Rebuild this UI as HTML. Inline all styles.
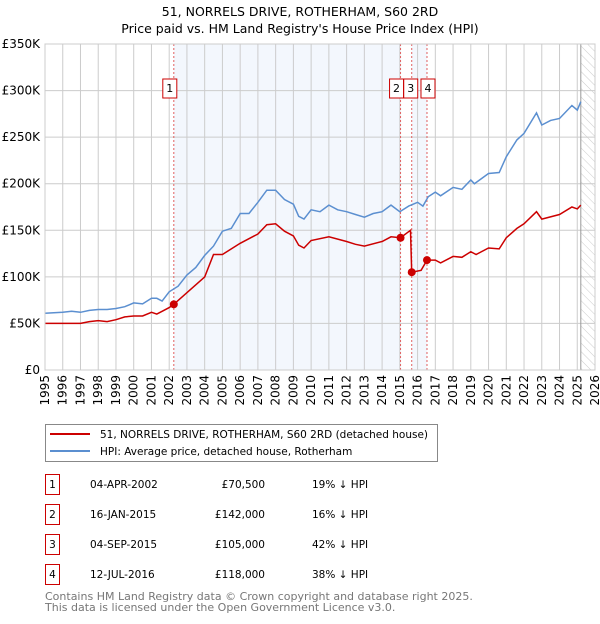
<!DOCTYPE html>
<html><head><meta charset="utf-8"><style>
body{margin:0;background:#fff;font-family:"DejaVu Sans","Liberation Sans",sans-serif;}
svg text{font-family:"DejaVu Sans","Liberation Sans",sans-serif;}
</style></head><body>
<svg id="c" width="600" height="620" xmlns="http://www.w3.org/2000/svg">
<defs><pattern id="hatch" width="6" height="6" patternUnits="userSpaceOnUse" patternTransform="rotate(-45)"><line x1="0" y1="0" x2="0" y2="6" stroke="#ccc" stroke-width="1"/></pattern></defs>
<text x="300" y="16" text-anchor="middle" font-size="12.5">51, NORRELS DRIVE, ROTHERHAM, S60 2RD</text>
<text x="300" y="33" text-anchor="middle" font-size="12.5">Price paid vs. HM Land Registry's House Price Index (HPI)</text>
<g id="plot"></g>
<g>
<rect x="45.5" y="424.5" width="392" height="37" fill="#fff" stroke="#888"/>
<line x1="50" y1="434" x2="90" y2="434" stroke="#cc0000" stroke-width="2"/>
<text x="100" y="438" font-size="10.5">51, NORRELS DRIVE, ROTHERHAM, S60 2RD (detached house)</text>
<line x1="50" y1="451" x2="90" y2="451" stroke="#5b8fd0" stroke-width="2"/>
<text x="100" y="455" font-size="10.5">HPI: Average price, detached house, Rotherham</text>
</g>
<g id="table" font-size="10.5"></g>
<text x="45" y="600" font-size="11" fill="#777">Contains HM Land Registry data © Crown copyright and database right 2025.</text>
<text x="45" y="611" font-size="11" fill="#777">This data is licensed under the Open Government Licence v3.0.</text>
</svg>
<script>
const hpiDates=[1995,1996,1996.5,1997,1997.5,1998,1998.5,1999,1999.5,2000,2000.5,2001,2001.3,2001.6,2002,2002.5,2003,2003.5,2004,2004.5,2005,2005.5,2006,2006.5,2007,2007.5,2008,2008.5,2009,2009.3,2009.6,2010,2010.5,2011,2011.5,2012,2012.5,2013,2013.5,2014,2014.5,2015,2015.5,2016,2016.3,2016.6,2017,2017.3,2018,2018.5,2019,2019.2,2020,2020.6,2021,2021.6,2022,2022.7,2023,2023.5,2024,2024.7,2025,2025.2];
const hpiValues=[61,62,63,62,64,65,65,66,68,72,71,77,77,74,84,90,102,110,123,133,149,152,168,168,180,193,193,183,178,165,162,172,170,177,172,170,167,164,168,170,177,170,176,180,176,186,191,187,196,194,204,200,211,212,229,247,254,276,263,268,270,284,279,288];
const paidDates=[1995,1996,1997,1997.5,1998,1998.5,1999,1999.5,2000,2000.5,2001,2001.3,2001.6,2002,2002.26,2003,2004,2004.5,2005,2006,2007,2007.5,2008,2008.5,2009,2009.3,2009.6,2010,2011,2012,2012.5,2013,2014,2014.5,2015.04,2015.6,2015.67,2016.2,2016.53,2017,2017.3,2018,2018.5,2019,2019.3,2020,2020.6,2021,2021.6,2022,2022.7,2023,2024,2024.7,2025,2025.2];
const paidValues=[50,50,50,52,53,52,54,57,58,58,62,60,63,67,70.5,83,100,124,124,136,146,156,157,149,144,134,131,139,143,138,135,133,138,143,142,150,105,107,118,118,115,122,121,127,124,131,130,142,152,157,170,162,167,175,173,177];
const saleLabels=["1","2","3","4"];
const saleDates=[2002.26,2015.04,2015.67,2016.53];
const saleValues=[70.5,142,105,118];
const saleDateText=["04-APR-2002","16-JAN-2015","04-SEP-2015","12-JUL-2016"];
const salePriceText=["£70,500","£142,000","£105,000","£118,000"];
const saleHpiText=["19% ↓ HPI","16% ↓ HPI","42% ↓ HPI","38% ↓ HPI"];
const yTicks=[0,50,100,150,200,250,300,350];
const yTickLabels=["£0","£50K","£100K","£150K","£200K","£250K","£300K","£350K"];
const xTicks=[1995,1996,1997,1998,1999,2000,2001,2002,2003,2004,2005,2006,2007,2008,2009,2010,2011,2012,2013,2014,2015,2016,2017,2018,2019,2020,2021,2022,2023,2024,2025,2026];

const NS="http://www.w3.org/2000/svg";
const X0=45,X1=595,Y0=370,Y1=44;
const x=t=>X0+(t-1995)*(X1-X0)/31;
const y=v=>Y0-v*(Y0-Y1)/350;
const plot=document.getElementById('plot');
function mk(tag,attrs,parent){const e=document.createElementNS(NS,tag);for(const k in attrs)e.setAttribute(k,attrs[k]);(parent||plot).appendChild(e);return e;}

let e;
e=mk('rect',{x:x(saleDates[0]),y:Y1,width:x(saleDates[1])-x(saleDates[0]),height:Y0-Y1,fill:'#eef3fc',opacity:0.7});


e=mk('rect',{x:x(saleDates[2]),y:Y1,width:x(saleDates[3])-x(saleDates[2]),height:Y0-Y1,fill:'#eef3fc',opacity:0.7});


e=mk('rect',{x:x(2025.2),y:Y1,width:X1-x(2025.2),height:Y0-Y1,fill:'url(#hatch)'});



yTicks.forEach((v,i)=>{
  e=mk('line',{x1:X0,x2:X1,y1:y(v),y2:y(v),stroke:'#ccc','stroke-width':1});
  
  
  e=mk('text',{x:X0-5,y:y(v)+4,'text-anchor':'end','font-size':12});
  e.textContent=yTickLabels[i];
  
  
});
xTicks.forEach(t=>{
  e=mk('line',{x1:x(t),x2:x(t),y1:Y1,y2:Y0,stroke:'#ccc','stroke-width':1});
  
  
  e=mk('text',{transform:`translate(${x(t)+4},${Y0+5}) rotate(-90)`,'text-anchor':'end','font-size':12});
  e.textContent=t;
  
  
});
e=mk('line',{x1:x(2025.2),x2:x(2025.2),y1:Y1,y2:Y0,stroke:'#999','stroke-width':1});


saleDates.forEach(d=>{
  e=mk('line',{x1:x(d),x2:x(d),y1:Y1,y2:Y0,stroke:'#e06060','stroke-width':1,'stroke-dasharray':'2,2'});
  
  
});

e=mk('path',{d:hpiDates.map((t,i)=>(i?'L':'M')+x(t).toFixed(1)+','+y(hpiValues[i]).toFixed(1)).join(''),fill:'none',stroke:'#5b8fd0','stroke-width':1.5});


e=mk('path',{d:paidDates.map((t,i)=>(i?'L':'M')+x(t).toFixed(1)+','+y(paidValues[i]).toFixed(1)).join(''),fill:'none',stroke:'#cc0000','stroke-width':1.5});


saleDates.forEach((d,i)=>{
  e=mk('circle',{cx:x(d),cy:y(saleValues[i]),r:4,fill:'#cc0000'});
  
  
});
const boxX=[x(saleDates[0])-11,x(saleDates[1])-11,x(saleDates[2])-8,x(saleDates[3])-6];
saleLabels.forEach((l,i)=>{
  const g=mk('g',{});
  
  
  mk('rect',{x:boxX[i],y:79,width:14,height:19,fill:'#fff',stroke:'#cc0000'},g);
  const t=mk('text',{x:boxX[i]+7,y:92,'text-anchor':'middle','font-size':11},g);
  t.textContent=l;
});
e=mk('rect',{x:X0,y:Y1,width:X1-X0,height:Y0-Y1,fill:'none',stroke:'#ccc'});



const tbl=document.getElementById('table');
const rowY=[484,514,544,574];
saleLabels.forEach((l,i)=>{
  const g=mk('g',{},tbl);
  
  
  mk('rect',{x:45.5,y:rowY[i]-9.5,width:14,height:20,fill:'#fff',stroke:'#cc0000'},g);
  let t=mk('text',{x:52.5,y:rowY[i]+4,'text-anchor':'middle'},g);t.textContent=l;
  t=mk('text',{x:90,y:rowY[i]+4},g);t.textContent=saleDateText[i];
  t=mk('text',{x:265,y:rowY[i]+4,'text-anchor':'end'},g);t.textContent=salePriceText[i];
  t=mk('text',{x:312,y:rowY[i]+4},g);t.textContent=saleHpiText[i];
});
</script>
</body></html>
